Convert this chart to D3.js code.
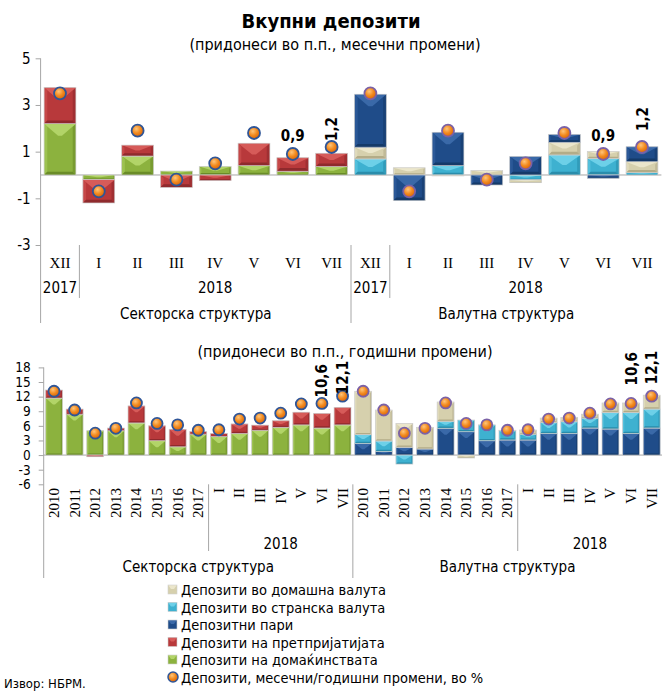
<!DOCTYPE html>
<html><head><meta charset="utf-8">
<script src="https://cdn.jsdelivr.net/npm/d3@7"></script>
<style>
body{margin:0;background:#fff}
svg{display:block}
text{font-family:"DejaVu Sans Condensed","DejaVu Sans",sans-serif;fill:#000}
.serif{font-family:"Liberation Serif","Times New Roman",serif}
.narrow{font-family:"Liberation Sans Narrow","DejaVu Sans Condensed",sans-serif}
</style></head><body>
<svg id="chart" width="662" height="691"></svg>
<script>
// ---------- monthly changes (top panel) ----------
const topCats = ["XII","I","II","III","IV","V","VI","VII"];
const topYearSpans = [["2017",0,1],["2018",1,8]];
const topHouseholds = [2.2,-0.2,0.81,0.17,0.36,0.4,0.16,0.36];
const topEnterprises = [1.55,-1.0,0.47,-0.53,-0.24,0.96,0.58,0.57];
const topForeign = [0.69,0,0.4,0,-0.21,0.86,0.71,0.1];
const topDomestic = [0.5,0.31,-0.04,0.19,-0.12,0.54,0.3,0.47];
const topDemand = [2.27,-1.1,1.43,-0.43,0.79,0.34,-0.14,0.64];
const topTotal = [3.5,-0.7,1.9,-0.2,0.5,1.8,0.9,1.2];
const topTicks = [5,3,1,-1,-3];

// ---------- annual changes (bottom panel) ----------
const botCats = ["2010","2011","2012","2013","2014","2015","2016","2017","I","II","III","IV","V","VI","VII"];
const botYearSpans = [["2018",8,15]];
const botHouseholds = [11.7,8.4,5.0,5.0,6.6,2.95,1.7,4.3,3.8,4.45,5.1,5.7,6.2,5.55,6.2];
const botEnterprises = [1.66,1.05,-0.34,0.55,3.5,3.05,3.6,0.55,0.65,1.95,1.05,1.35,2.6,3.0,3.6];
const botDemand = [2.4,0.75,1.6,1.25,5.5,4.8,2.95,3.1,3.1,4.45,4.45,5.55,5.35,4.45,5.55];
const botForeign = [1.8,2.15,-1.85,0,1.45,2.4,3.25,1.9,1.2,2.25,2.4,2.05,3.4,4.3,3.9];
const botDomestic = [8.9,6.35,4.9,4.45,3.95,-0.6,0,0.1,0.85,0.9,0.9,0.8,1.95,1.95,2.85];
const botTotal = [13.1,9.25,4.5,5.5,10.7,6.5,6.2,5.1,5.2,7.4,7.6,8.6,10.5,10.6,12.1];
const botTicks = [18,15,12,9,6,3,0,-3,-6];

const groupNames = ["Секторска структура","Валутна структура"];

const palette = {
  domestic:   {base:"#d6d0ad", light:"#ebe6cb", dark:"#b3ac88"},
  foreign:    {base:"#3eb1d0", light:"#6dd0e8", dark:"#2a8dab"},
  demand:     {base:"#1f4c89", light:"#3a69a8", dark:"#153a69"},
  enterprise: {base:"#b8393b", light:"#d65b59", dark:"#8f2a2d"},
  household:  {base:"#8cb23e", light:"#b2d468", dark:"#6a8c28"}
};
const legendItems = [
  ["domestic","Депозити во домашна валута"],
  ["foreign","Депозити во странска валута"],
  ["demand","Депозитни пари"],
  ["enterprise","Депозити на претпријатијата"],
  ["household","Депозити на домаќинствата"],
  [null,"Депозити, месечни/годишни промени, во %"]
];

const svg = d3.select("#chart");
const defs = svg.append("defs");
function dotGrad(id){
  const g = defs.append("radialGradient").attr("id",id).attr("cx","40%").attr("cy","35%").attr("r","65%");
  g.append("stop").attr("offset","0%").attr("stop-color","#ffc57a");
  g.append("stop").attr("offset","55%").attr("stop-color","#f28a1e");
  g.append("stop").attr("offset","100%").attr("stop-color","#d9650a");
}
dotGrad("dotFill");

const fmt = v => d3.format(".1f")(v).replace(".", ",");

// bevelled bar segment
function segment(g, x0, x1, yTop, yBot, c){
  const w = x1 - x0, h = yBot - yTop;
  if (h <= 0.2) return;
  const xc = (x0 + x1) / 2;
  const bt = Math.min(w * 0.38, h * 0.5);
  const bs = Math.min(w * 0.1, h * 0.25);
  const s = g.append("g");
  s.append("rect").attr("x",x0).attr("y",yTop).attr("width",w).attr("height",h).attr("fill",c.base);
  s.append("polygon").attr("points",[[x0,yTop],[x0+bs,yTop+bs],[x0+bs,yBot-bs],[x0,yBot]].join(" ")).attr("fill",c.light).attr("opacity",0.45);
  s.append("polygon").attr("points",[[x1,yTop],[x1-bs,yTop+bs],[x1-bs,yBot-bs],[x1,yBot]].join(" ")).attr("fill",c.dark).attr("opacity",0.6);
  s.append("polygon").attr("points",[[x0,yBot],[x1,yBot],[x1-bs,yBot-bs],[x0+bs,yBot-bs]].join(" ")).attr("fill",c.dark);
  s.append("polygon").attr("points",[[x0,yTop],[x1,yTop],[xc+w*0.06,yTop+bt],[xc-w*0.06,yTop+bt]].join(" ")).attr("fill",c.light);
  s.append("rect").attr("x",x0).attr("y",yTop).attr("width",w).attr("height",h)
    .attr("fill","none").attr("stroke","#cfcfcf").attr("stroke-width",0.7);
}

function panel(cfg){
  const n = cfg.cats.length;
  const idx = d3.range(2 * n);
  const x = d3.scaleBand().domain(idx).range(cfg.xRange).paddingInner(0.18).paddingOuter(0.09);
  const y = d3.scaleLinear().domain(cfg.yDomain).range(cfg.yRange);
  const g = svg.append("g");

  // y axis
  const ax = g.append("g").attr("transform",`translate(${cfg.xRange[0]},0)`)
    .call(d3.axisLeft(y).tickValues(cfg.ticks).tickSize(5).tickPadding(cfg.tickPad).tickFormat(d => String(d)));
  ax.select(".domain").remove();
  ax.selectAll(".tick line").attr("stroke","#a6a6a6");
  ax.selectAll(".tick text").attr("font-size",cfg.tickFont).attr("font-family","DejaVu Sans Condensed, DejaVu Sans, sans-serif").attr("fill","#000");
  g.append("line").attr("x1",cfg.xRange[0]).attr("x2",cfg.xRange[0])
    .attr("y1",y(cfg.yDomain[1])).attr("y2",cfg.axisBottom).attr("stroke","#a6a6a6");

  // zero line
  g.append("line").attr("x1",cfg.xRange[0]).attr("x2",cfg.xRange[1])
    .attr("y1",y(0)).attr("y2",y(0)).attr("stroke","#a6a6a6");

  // stacked bars per group
  cfg.groups.forEach((grp, gi) => {
    const rows = cfg.cats.map((c, i) => {
      const r = {i: gi * n + i};
      grp.keys.forEach((k, ki) => r[k] = grp.values[ki][i]);
      return r;
    });
    const stacked = d3.stack().keys(grp.keys).offset(d3.stackOffsetDiverging)(rows);
    stacked.forEach(layer => {
      layer.forEach(d => {
        const x0 = x(d.data.i), x1 = x0 + x.bandwidth();
        const a = y(d[1]), b = y(d[0]);
        segment(g, x0, x1, Math.min(a,b), Math.max(a,b), palette[layer.key]);
      });
    });
    // total dots
    cfg.total.forEach((v, i) => {
      g.append("circle").attr("cx", x(gi*n+i) + x.bandwidth()/2).attr("cy", y(v)).attr("r", cfg.dotR)
        .attr("fill","url(#dotFill)").attr("stroke", gi === 0 ? "#2f5597" : "#7b61a6").attr("stroke-width",1.8);
    });
    // value labels
    cfg.labels[gi].forEach(L => {
      const cx = x(gi*n+L.i) + x.bandwidth()/2;
      const v = cfg.total[L.i];
      const t = g.append("text").text(fmt(v)).attr("font-weight","bold").attr("font-size",15)
        .attr("font-family","DejaVu Sans Condensed, DejaVu Sans, sans-serif");
      if (L.rot) {
        t.attr("transform",`translate(${cx+5.5},${y(v)-L.off}) rotate(-90)`).attr("text-anchor","start");
      } else {
        t.attr("x",cx).attr("y",y(v)-L.off).attr("text-anchor","middle");
      }
    });
  });

  // category labels
  const cy = cfg.catY;
  idx.forEach(i => {
    const c = cfg.cats[i % n];
    const cx = x(i) + x.bandwidth()/2;
    const t = g.append("text").attr("class","serif").text(c).attr("font-size",cfg.catFont);
    if (cfg.rotateCats) {
      t.attr("transform",`translate(${cx+5},${cy}) rotate(-90)`).attr("text-anchor","end");
    } else {
      t.attr("x",cx).attr("y",cy).attr("text-anchor","middle");
    }
  });

  // year spans and separators
  const left = cfg.xRange[0];
  const edge = k => left + (cfg.xRange[1]-cfg.xRange[0]) * k / (2*n);
  [0,1].forEach(gi => {
    cfg.yearSpans.forEach(([lab, a, b]) => {
      const xa = edge(gi*n + a), xb = edge(gi*n + b);
      g.append("text").attr("class","narrow").text(lab).attr("x",(xa+xb)/2).attr("y",cfg.yearY)
        .attr("text-anchor","middle").attr("font-size",cfg.yearFont);
      if (a > 0) g.append("line").attr("x1",xa).attr("x2",xa).attr("y1",cfg.sepTop).attr("y2",cfg.sepBottom).attr("stroke","#a6a6a6");
    });
    const ga = edge(gi*n), gb = edge(gi*n + n);
    g.append("text").attr("class","narrow").text(groupNames[gi]).attr("x",(ga+gb)/2).attr("y",cfg.groupY)
      .attr("text-anchor","middle").attr("font-size",cfg.groupFont);
  });
  const mid = edge(n);
  g.append("line").attr("x1",mid).attr("x2",mid).attr("y1",cfg.sepTop).attr("y2",cfg.axisBottom).attr("stroke","#a6a6a6");
}

// titles
svg.append("text").text("Вкупни депозити").attr("x",331).attr("y",28).attr("text-anchor","middle")
  .attr("font-size",20).attr("font-weight","bold");
svg.append("text").text("(придонеси во п.п., месечни промени)").attr("x",335).attr("y",50).attr("text-anchor","middle")
  .attr("font-size",16);
svg.append("text").text("(придонеси во п.п., годишни промени)").attr("x",345).attr("y",357).attr("text-anchor","middle")
  .attr("font-size",16);

panel({
  cats: topCats, yearSpans: topYearSpans, total: topTotal, ticks: topTicks,
  xRange: [40.6, 661.4], yDomain: [-3,5], yRange: [245, 58.3], axisBottom: 323,
  groups: [
    {keys:["household","enterprise"], values:[topHouseholds, topEnterprises]},
    {keys:["foreign","domestic","demand"], values:[topForeign, topDomestic, topDemand]}
  ],
  labels: [[{i:6,off:13},{i:7,off:6,rot:true}],[{i:6,off:13},{i:7,off:16,rot:true}]],
  dotR: 6, tickFont: 15, tickPad: 5, catFont: 15, catY: 268, rotateCats: false,
  yearY: 293, yearFont: 15, groupY: 319, groupFont: 15, sepTop: 245, sepBottom: 298
});

panel({
  cats: botCats, yearSpans: botYearSpans, total: botTotal, ticks: botTicks,
  xRange: [43.7, 662], yDomain: [-6,18], yRange: [484.3, 367.4], axisBottom: 578,
  groups: [
    {keys:["household","enterprise"], values:[botHouseholds, botEnterprises]},
    {keys:["demand","foreign","domestic"], values:[botDemand, botForeign, botDomestic]}
  ],
  labels: [[{i:13,off:6,rot:true},{i:14,off:2,rot:true}],[{i:13,off:18,rot:true},{i:14,off:12,rot:true}]],
  dotR: 5.5, tickFont: 13.5, tickPad: 8, catFont: 15, catY: 488, rotateCats: true,
  yearY: 549, yearFont: 15, groupY: 572, groupFont: 15, sepTop: 484.3, sepBottom: 551
});

// legend
const lg = svg.append("g");
legendItems.forEach(([key, label], i) => {
  const yy = 590 + i * 17.5;
  if (key) {
    const c = palette[key];
    lg.append("rect").attr("x",168).attr("y",yy-5).attr("width",9).attr("height",9).attr("fill",c.base);
    lg.append("polygon").attr("points",[[168,yy-5],[177,yy-5],[174,yy-1],[171,yy-1]].join(" ")).attr("fill",c.light);
    lg.append("rect").attr("x",168).attr("y",yy-5).attr("width",9).attr("height",9).attr("fill","none").attr("stroke","#cfcfcf").attr("stroke-width",0.6);
  } else {
    lg.append("circle").attr("cx",173).attr("cy",yy-0.5).attr("r",5).attr("fill","url(#dotFill)").attr("stroke","#2f5597").attr("stroke-width",1.5);
  }
  lg.append("text").text(label).attr("x",181).attr("y",yy+5).attr("font-size",14.5);
});

svg.append("text").text("Извор: НБРМ.").attr("x",4).attr("y",688).attr("font-size",13);
</script>
</body></html>
